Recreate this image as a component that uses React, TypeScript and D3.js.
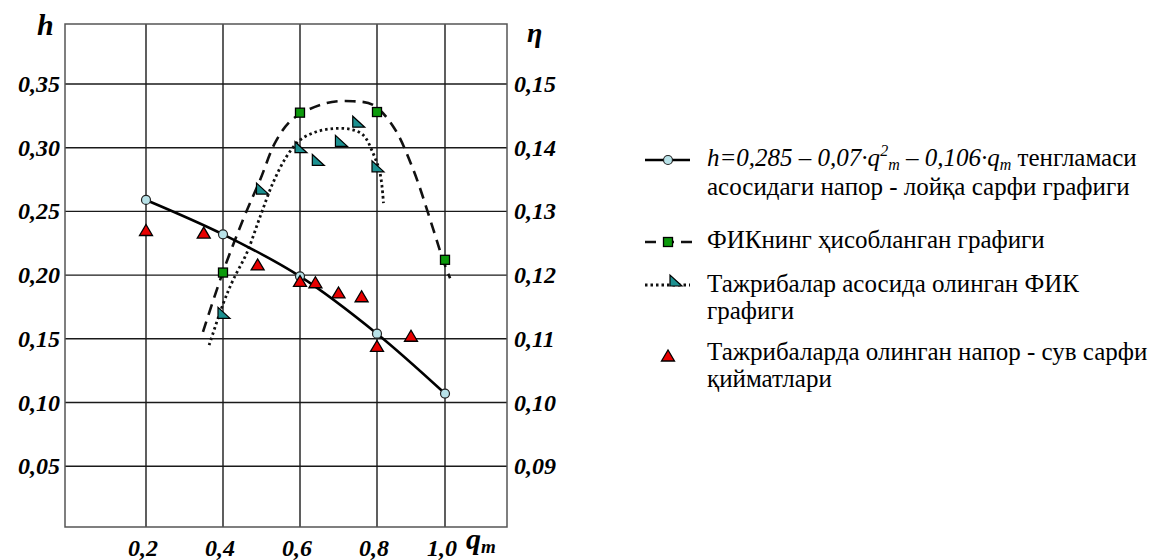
import React, { useRef, useEffect } from 'react';
import * as d3 from 'd3';

// axis ticks
const qTicks = [0.2, 0.4, 0.6, 0.8, 1.0];
const hTicks = [0.05, 0.1, 0.15, 0.2, 0.25, 0.3, 0.35];
const etaTicks = [0.09, 0.1, 0.11, 0.12, 0.13, 0.14, 0.15];

// h = 0.285 - 0.07 q^2 - 0.106 q (calculated points)
const calcQ = [0.2, 0.4, 0.6, 0.8, 1.0];
const calcH = [0.259, 0.232, 0.199, 0.154, 0.107];

// measured head points
const expQ = [0.2, 0.35, 0.49, 0.6, 0.64, 0.7, 0.76, 0.8, 0.9];
const expH = [0.235, 0.233, 0.208, 0.195, 0.194, 0.186, 0.183, 0.144, 0.152];

// calculated efficiency (squares + dashed curve)
const fikCalcQ = [0.4, 0.6, 0.8, 1.0];
const fikCalcEta = [0.1204, 0.1455, 0.1456, 0.1224];
const fikCalcCurveQ = [0.348, 0.397, 0.452, 0.496, 0.539, 0.583, 0.669, 0.738, 0.79, 0.848, 0.907, 0.966, 0.994, 1.015];
const fikCalcCurveEta = [0.1111, 0.12, 0.1287, 0.1349, 0.1412, 0.1446, 0.147, 0.1473, 0.1467, 0.1433, 0.1365, 0.1271, 0.1224, 0.1195];

// experimental efficiency (triangles + dotted curve)
const fikExpQ = [0.4, 0.5, 0.6, 0.645, 0.705, 0.75, 0.8];
const fikExpEta = [0.114, 0.1335, 0.14, 0.138, 0.141, 0.144, 0.137];
const fikExpCurveQ = [0.364, 0.401, 0.426, 0.462, 0.496, 0.53, 0.565, 0.6, 0.643, 0.687, 0.73, 0.764, 0.79, 0.809, 0.819];
const fikExpCurveEta = [0.109, 0.1156, 0.1192, 0.1235, 0.1291, 0.1345, 0.1386, 0.1412, 0.1425, 0.143, 0.1429, 0.142, 0.1391, 0.136, 0.1313];

const W = 1152;
const H = 560;
const frame = { left: 65, right: 507, top: 24, bottom: 527 };
const serif = "'Liberation Serif', 'Times New Roman', 'DejaVu Serif', serif";

const CIRCLE_FILL = '#b8e2e8';
const GREEN = '#0c9a0c';
const TEAL = '#1c9090';
const RED = '#e80000';

const redTri = 'M-6.5,5 L6.5,5 L0,-6 Z';
const tealTri = 'M-5,-6 L-5,5 L7,5 Z';

const App = () => {
    const svgRef = useRef(null);

    useEffect(() => {
        if (!svgRef.current) return;
        const svg = d3.select(svgRef.current);
        svg.selectAll('*').remove();

        const x = d3.scaleLinear().domain([0.2, 0.8, 1.0]).range([146, 377, 445]);
        const y = d3.scaleLinear().domain([0.1, 0.35]).range([402.5, 84]);
        const yEta = d3.scaleLinear().domain([0.1, 0.15]).range([402.5, 84]);

        // --- grid ---
        const grid = svg.append('g');
        grid.selectAll('.hgrid')
            .data(hTicks)
            .enter()
            .append('line')
            .attr('x1', frame.left)
            .attr('x2', frame.right)
            .attr('y1', d => y(d))
            .attr('y2', d => y(d))
            .attr('stroke', '#1a1a1a')
            .attr('stroke-width', 1.4);
        grid.selectAll('.vgrid')
            .data(qTicks)
            .enter()
            .append('line')
            .attr('x1', d => x(d))
            .attr('x2', d => x(d))
            .attr('y1', frame.top)
            .attr('y2', frame.bottom)
            .attr('stroke', '#1a1a1a')
            .attr('stroke-width', 1.4);
        grid.append('rect')
            .attr('x', frame.left)
            .attr('y', frame.top)
            .attr('width', frame.right - frame.left)
            .attr('height', frame.bottom - frame.top)
            .attr('fill', 'none')
            .attr('stroke', '#555')
            .attr('stroke-width', 1.5);

        // --- tick labels ---
        const fmt = (d, n) => d.toFixed(n).replace('.', ',');
        const bi = sel => sel
            .style('font-family', serif)
            .style('font-style', 'italic')
            .style('font-weight', 'bold');

        svg.selectAll('.hlab')
            .data(hTicks)
            .enter()
            .append('text')
            .attr('x', 60)
            .attr('y', d => y(d) + 8)
            .attr('text-anchor', 'end')
            .call(bi)
            .style('font-size', '24px')
            .text(d => fmt(d, 2));
        svg.selectAll('.elab')
            .data(etaTicks)
            .enter()
            .append('text')
            .attr('x', 514)
            .attr('y', d => yEta(d) + 8)
            .call(bi)
            .style('font-size', '24px')
            .text(d => fmt(d, 2));
        svg.selectAll('.qlab')
            .data(qTicks)
            .enter()
            .append('text')
            .attr('x', d => x(d) - 3)
            .attr('y', 556)
            .attr('text-anchor', 'middle')
            .call(bi)
            .style('font-size', '24px')
            .text(d => fmt(d, 1));

        // axis titles
        svg.append('text')
            .attr('x', 37).attr('y', 35)
            .call(bi).style('font-size', '30px')
            .text('h');
        svg.append('text')
            .attr('x', 527).attr('y', 42)
            .call(bi).style('font-size', '28px')
            .text('η');
        const qt = svg.append('text')
            .attr('x', 466).attr('y', 549)
            .call(bi).style('font-size', '30px');
        qt.append('tspan').text('q');
        qt.append('tspan').style('font-size', '19px').attr('dy', 4).text('m');

        // --- curves ---
        const lineH = d3.line().x(d => x(d[0])).y(d => y(d[1])).curve(d3.curveCatmullRom);
        const lineEta = d3.line().x(d => x(d[0])).y(d => yEta(d[1])).curve(d3.curveCatmullRom);

        svg.append('path')
            .datum(fikCalcCurveQ.map((q, i) => [q, fikCalcCurveEta[i]]))
            .attr('fill', 'none')
            .attr('stroke', '#111')
            .attr('stroke-width', 2.6)
            .attr('stroke-dasharray', '11,7')
            .attr('d', lineEta);

        svg.append('path')
            .datum(fikExpCurveQ.map((q, i) => [q, fikExpCurveEta[i]]))
            .attr('fill', 'none')
            .attr('stroke', '#111')
            .attr('stroke-width', 2.8)
            .attr('stroke-dasharray', '2.5,3')
            .attr('d', lineEta);

        svg.append('path')
            .datum(calcQ.map((q, i) => [q, calcH[i]]))
            .attr('fill', 'none')
            .attr('stroke', '#000')
            .attr('stroke-width', 2.6)
            .attr('d', lineH);

        // --- markers ---
        svg.selectAll('.calc')
            .data(calcQ.map((q, i) => [q, calcH[i]]))
            .enter()
            .append('circle')
            .attr('cx', d => x(d[0]))
            .attr('cy', d => y(d[1]))
            .attr('r', 4.5)
            .attr('fill', CIRCLE_FILL)
            .attr('stroke', '#222')
            .attr('stroke-width', 1.2);

        svg.selectAll('.exp')
            .data(expQ.map((q, i) => [q, expH[i]]))
            .enter()
            .append('path')
            .attr('transform', d => `translate(${x(d[0])},${y(d[1])})`)
            .attr('d', redTri)
            .attr('fill', RED)
            .attr('stroke', '#000')
            .attr('stroke-width', 1.3);

        svg.selectAll('.fikc')
            .data(fikCalcQ.map((q, i) => [q, fikCalcEta[i]]))
            .enter()
            .append('rect')
            .attr('x', d => x(d[0]) - 4.5)
            .attr('y', d => yEta(d[1]) - 4.5)
            .attr('width', 9)
            .attr('height', 9)
            .attr('fill', GREEN)
            .attr('stroke', '#000')
            .attr('stroke-width', 1.3);

        svg.selectAll('.fike')
            .data(fikExpQ.map((q, i) => [q, fikExpEta[i]]))
            .enter()
            .append('path')
            .attr('transform', d => `translate(${x(d[0])},${yEta(d[1])})`)
            .attr('d', tealTri)
            .attr('fill', TEAL)
            .attr('stroke', '#000')
            .attr('stroke-width', 1.2);

        // --- legend ---
        const lg = svg.append('g').style('font-family', serif).style('font-size', '25px').attr('fill', '#000');
        const textX = 707;

        // item 1
        lg.append('line').attr('x1', 645).attr('x2', 690).attr('y1', 160).attr('y2', 160)
            .attr('stroke', '#000').attr('stroke-width', 2.6);
        lg.append('circle').attr('cx', 668).attr('cy', 160).attr('r', 4.5)
            .attr('fill', CIRCLE_FILL).attr('stroke', '#222').attr('stroke-width', 1.2);
        const t1 = lg.append('text').attr('x', textX).attr('y', 166);
        t1.append('tspan').style('font-style', 'italic').text('h=0,285 – 0,07·q');
        t1.append('tspan').style('font-style', 'italic').style('font-size', '16px').attr('dy', -10).text('2');
        t1.append('tspan').style('font-style', 'italic').style('font-size', '16px').attr('dy', 14).text('m');
        t1.append('tspan').style('font-style', 'italic').attr('dy', -4).text(' – 0,106·q');
        t1.append('tspan').style('font-style', 'italic').style('font-size', '16px').attr('dy', 4).text('m');
        t1.append('tspan').attr('dy', -4).text(' тенгламаси');
        lg.append('text').attr('x', textX).attr('y', 195).text('асосидаги напор - лойқа сарфи графиги');

        // item 2
        lg.append('line').attr('x1', 645).attr('x2', 692).attr('y1', 242).attr('y2', 242)
            .attr('stroke', '#111').attr('stroke-width', 2.6).attr('stroke-dasharray', '11,7');
        lg.append('rect').attr('x', 663.5).attr('y', 237.5).attr('width', 9).attr('height', 9)
            .attr('fill', GREEN).attr('stroke', '#000').attr('stroke-width', 1.3);
        lg.append('text').attr('x', textX).attr('y', 248).text('ФИКнинг ҳисобланган графиги');

        // item 3
        lg.append('line').attr('x1', 645).attr('x2', 690).attr('y1', 285).attr('y2', 285)
            .attr('stroke', '#111').attr('stroke-width', 2.8).attr('stroke-dasharray', '2.5,3');
        lg.append('path').attr('transform', 'translate(675,281)').attr('d', tealTri)
            .attr('fill', TEAL).attr('stroke', '#000').attr('stroke-width', 1.2);
        lg.append('text').attr('x', textX).attr('y', 292).text('Тажрибалар асосида олинган ФИК');
        lg.append('text').attr('x', textX).attr('y', 319).text('графиги');

        // item 4
        lg.append('path').attr('transform', 'translate(668,356)').attr('d', redTri)
            .attr('fill', RED).attr('stroke', '#000').attr('stroke-width', 1.3);
        lg.append('text').attr('x', textX).attr('y', 360).text('Тажрибаларда олинган напор - сув сарфи');
        lg.append('text').attr('x', textX).attr('y', 387).text('қийматлари');
    }, []);

    return (
        <div style={{ position: 'absolute', left: 0, top: 0, width: W, height: H, background: '#fff' }}>
            <svg ref={svgRef} width={W} height={H} style={{ display: 'block' }} />
        </div>
    );
};

export default App;
